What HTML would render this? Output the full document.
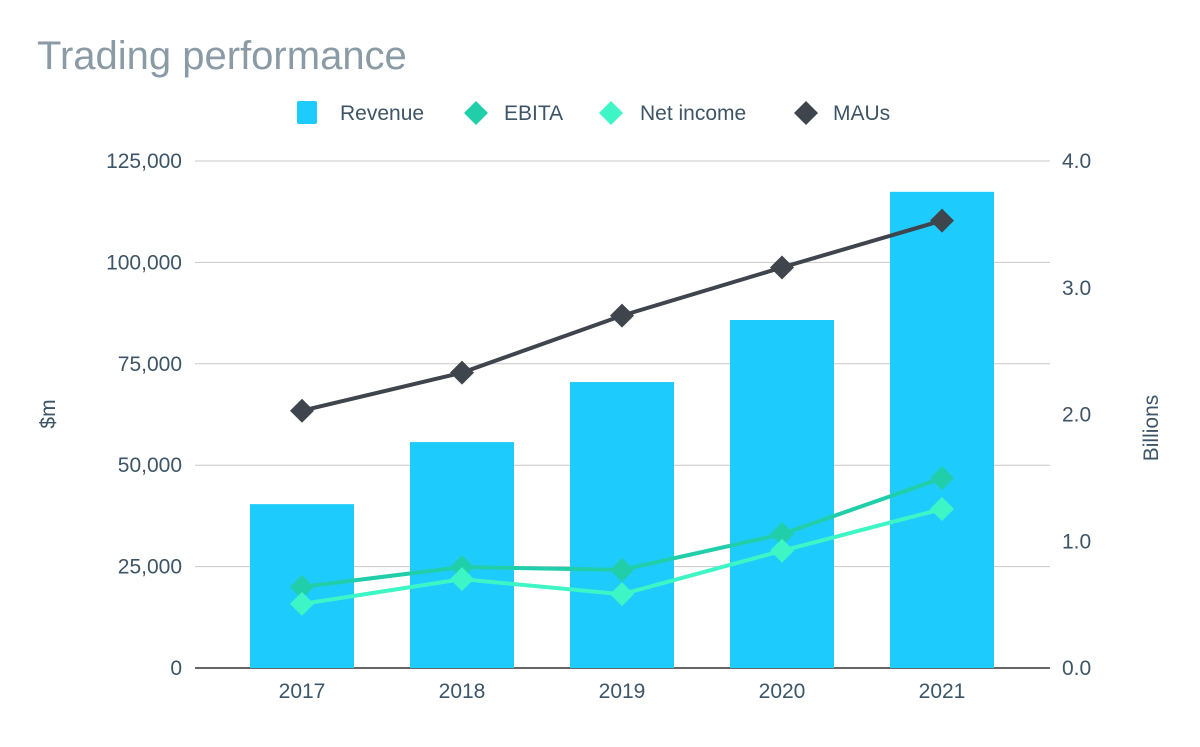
<!DOCTYPE html>
<html><head><meta charset="utf-8"><style>
body{margin:0;background:#fff;font-family:"Liberation Sans",sans-serif}
svg text{font-family:"Liberation Sans",sans-serif}
</style></head><body>
<svg id="chart" width="1200" height="742" xmlns="http://www.w3.org/2000/svg">
<text x="37" y="69" font-size="40" fill="#8a9ba6">Trading performance</text>
<g>
<g><rect x="297" y="101" width="20" height="23" rx="2" fill="#1ecbfd"/><text x="340" y="120" font-size="21" fill="#3d5566">Revenue</text></g>
<g><path d="M476 101 L488 113 L476 125 L464 113Z" fill="#20cfaa"/><text x="504" y="120" font-size="21" fill="#3d5566">EBITA</text></g>
<g><path d="M611 101 L623 113 L611 125 L599 113Z" fill="#3df5c5"/><text x="640" y="120" font-size="21" fill="#3d5566">Net income</text></g>
<g><path d="M806 101 L818 113 L806 125 L794 113Z" fill="#3e454c"/><text x="833" y="120" font-size="21" fill="#3d5566">MAUs</text></g>
</g>
<text transform="translate(55,414) rotate(-90)" text-anchor="middle" font-size="21" fill="#3d5566">$m</text>
<text transform="translate(1158,428) rotate(-90)" text-anchor="middle" font-size="21" fill="#3d5566">Billions</text>
<g id="grid"></g><g id="bars"></g><g id="lines"></g><g id="axes"></g>
</svg>
<script>
const categories=["2017","2018","2019","2020","2021"];
const revenue=[40400,55700,70500,85800,117400];
const ebita=[20000,24900,24200,33000,46800];
const netIncome=[15800,21900,18200,28900,39200];
const maus=[2.03,2.33,2.78,3.16,3.53];
const leftTicks=[0,25000,50000,75000,100000,125000];
const rightTicks=["0.0","1.0","2.0","3.0","4.0"];
const NS="http://www.w3.org/2000/svg";
const y0=668,y1=161,px0=222,band=160;
const yL=v=>y0-(v/125000)*(y0-y1);
const yR=v=>y0-(v/4)*(y0-y1);
const xC=i=>px0+band*i+band/2;
function mk(tag,attrs,parent){const e=document.createElementNS(NS,tag);for(const k in attrs)e.setAttribute(k,attrs[k]);document.getElementById(parent).appendChild(e);return e;}
leftTicks.forEach((t,i)=>{
 const y=yL(t);
 const l=mk('line',{x1:195,x2:1050,y1:y,y2:y,stroke:i==0?'#333':'#c8c8c8','stroke-width':i==0?1.5:1},'grid');
 
 
 const tx=mk('text',{x:182,y:y+7,'text-anchor':'end','font-size':21,fill:'#3d5566'},'axes');
 tx.textContent=t.toLocaleString('en-US');
 
 
});
rightTicks.forEach(t=>{
 const tx=mk('text',{x:1062,y:yR(parseFloat(t))+7,'font-size':21,fill:'#3d5566'},'axes');
 tx.textContent=t;
 
 
});
categories.forEach((c,i)=>{
 const tx=mk('text',{x:xC(i),y:698,'text-anchor':'middle','font-size':21,fill:'#3d5566'},'axes');
 tx.textContent=c;
 
 
 const b=mk('rect',{x:xC(i)-52,y:yL(revenue[i]),width:104,height:y0-yL(revenue[i]),fill:'#1ecbfd'},'bars');
 
 
});
function series(vals,fy,color,name){
 const p=mk('polyline',{points:vals.map((v,i)=>xC(i)+','+fy(v)).join(' '),fill:'none',stroke:color,'stroke-width':4},'lines');
 
 
 vals.forEach((v,i)=>{
  const x=xC(i),y=fy(v);
  const d=mk('path',{d:`M${x} ${y-12}L${x+12} ${y}L${x} ${y+12}L${x-12} ${y}Z`,fill:color},'lines');
  
  
 });
}
series(ebita,yL,'#20cfaa','ebita');
series(netIncome,yL,'#3df5c5','net-income');
series(maus,yR,'#3e454c','maus');
</script>
</body></html>
